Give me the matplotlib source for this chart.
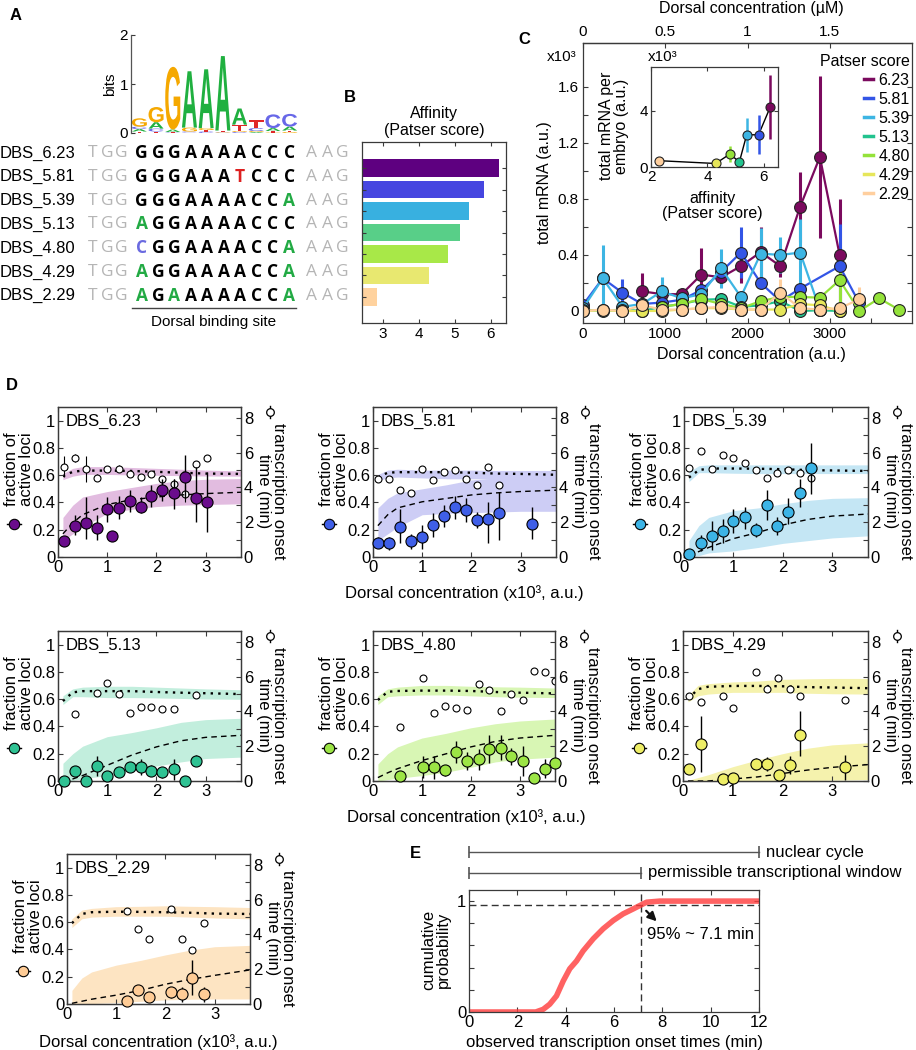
import numpy as np
import matplotlib
matplotlib.use('Agg')
import matplotlib.pyplot as plt
from matplotlib.textpath import TextPath
from matplotlib.patches import PathPatch
from matplotlib.font_manager import FontProperties
from matplotlib.lines import Line2D
import matplotlib.transforms as mtrans

plt.rcParams['font.family'] = ['Liberation Sans', 'DejaVu Sans']
plt.rcParams['axes.edgecolor'] = '#3a3a3a'
plt.rcParams['axes.linewidth'] = 0.9
plt.rcParams['xtick.color'] = '#3a3a3a'
plt.rcParams['ytick.color'] = '#3a3a3a'
plt.rcParams['xtick.labelcolor'] = 'k'
plt.rcParams['ytick.labelcolor'] = 'k'

# ======================= DATA =======================
# ---- Panel A: sequences and logo ----
dbs_names = ['DBS_6.23', 'DBS_5.81', 'DBS_5.39', 'DBS_5.13', 'DBS_4.80', 'DBS_4.29', 'DBS_2.29']
dbs_seqs = ['GGGAAAACCC', 'GGGAAATCCC', 'GGGAAAACCA', 'AGGAAAACCC',
            'CGGAAAACCA', 'AGGAAAACCA', 'AGAAAAACCA']
flank_left = 'TGG'
flank_right = 'AAG'
logo_A = [0.05, 0.13, 0.05, 1.15, 1.20, 1.52, 0.33, 0.02, 0.06, 0.08]
logo_C = [0.05, 0.06, 0.01, 0.02, 0.03, 0.01, 0.02, 0.06, 0.28, 0.26]
logo_G = [0.17, 0.31, 1.28, 0.08, 0.04, 0.01, 0.02, 0.02, 0.01, 0.02]
logo_T = [0.03, 0.03, 0.01, 0.01, 0.03, 0.03, 0.13, 0.16, 0.03, 0.03]

# ---- Panel B ----
patser = [6.23, 5.81, 5.39, 5.13, 4.80, 4.29, 2.29]
bar_len = [6.23, 5.81, 5.39, 5.13, 4.80, 4.29, 2.83]
bar_colors = ['#5e0080', '#4646e0', '#38b0e0', '#58cf88', '#a8e848', '#e8e870', '#ffd29e']

# ---- Panel C ----
c_x = [0, 240, 480, 720, 960, 1200, 1440, 1680, 1920, 2160, 2400, 2640, 2880, 3120, 3360, 3600, 3840]
nan = np.nan
c623_y = [nan, nan, nan, 0.14, 0.12, 0.12, 0.26, 0.24, 0.32, 0.42, 0.32, 0.745, 1.10, 0.40, nan, nan, nan]
c623_e = [0, 0, 0, 0.13, 0.03, 0.04, 0.19, 0.05, 0.12, 0.18, 0.08, 0.25, 0.58, 0.40, 0, 0, 0]
c581_y = [0.043, 0.233, 0.13, 0.05, 0.06, 0.08, 0.15, 0.28, 0.417, 0.20, 0.07, 0.16, nan, 0.32, 0.055, nan, nan]
c581_e = [0, 0, 0.1, 0, 0, 0, 0, 0, 0.18, 0, 0, 0, 0, 0.3, 0, 0, 0]
c539_y = [0.02, 0.233, 0.03, 0.05, 0.14, 0.09, 0.12, 0.305, 0.10, 0.41, 0.40, 0.417, 0.01, nan, nan, nan, nan]
c539_e = [0, 0.24, 0, 0, 0.1, 0, 0, 0.14, 0, 0.18, 0.13, 0.24, 0, 0, 0, 0, 0]
c513_y = [0.01, 0.0, 0.01, 0.0, 0.03, 0.05, 0.08, 0.085, 0.03, 0.04, 0.07, 0.0, 0.005, 0.0, nan, nan, nan]
c513_e = [0] * 17
c480_y = [nan, nan, nan, nan, 0.03, 0.05, 0.085, 0.05, 0.02, 0.07, 0.10, 0.10, 0.095, 0.22, 0.0, 0.09, 0.01]
c480_e = [0, 0, 0, 0, 0, 0, 0.05, 0, 0, 0, 0, 0, 0, 0.2, 0, 0, 0]
c429_y = [0.0, 0.005, 0.0, 0.0, 0.0, 0.01, 0.02, 0.02, 0.01, 0.01, 0.01, 0.05, 0.04, 0.0, nan, nan, nan]
c429_e = [0] * 17
c229_y = [0.0, 0.01, 0.0, 0.04, 0.01, 0.01, 0.02, 0.03, 0.01, 0.01, 0.13, 0.02, 0.01, 0.02, 0.083, nan, nan]
c229_e = [0, 0, 0, 0, 0, 0, 0, 0, 0, 0, 0.1, 0, 0, 0, 0.09, 0, 0]
c_colors = ['#7b0a5e', '#3355e6', '#3db5e3', '#22c38e', '#94e23a', '#e6e65a', '#ffcf9e']
c_labels = ['6.23', '5.81', '5.39', '5.13', '4.80', '4.29', '2.29']
# inset
ins_x = [2.29, 4.29, 4.80, 5.13, 5.39, 5.81, 6.23]
ins_y = [0.45, 0.25, 0.93, 0.35, 2.3, 2.3, 4.3]
ins_e = [0, 0, 0.6, 0, 1.2, 1.4, 2.3]
ins_colors = ['#ffcf9e', '#e6e65a', '#94e23a', '#22c38e', '#3db5e3', '#3355e6', '#7b0a5e']

# ---- Panel D: model curves sampled at these concentrations (x10^3 a.u.) ----
model_x = [0.1, 0.3, 0.5, 1.0, 1.5, 2.0, 2.5, 3.0, 3.72]

d623_fx = [0.12, 0.34, 0.57, 0.79, 1.0, 1.09, 1.23, 1.46, 1.69, 1.9, 2.12, 2.35, 2.58, 2.81, 3.03]
d623_fy = [0.115, 0.23, 0.25, 0.215, 0.35, 0.155, 0.36, 0.41, 0.37, 0.445, 0.49, 0.47, 0.59, 0.43, 0.40]
d623_fdn = [0.01, 0.07, 0.115, 0.09, 0.09, 0.0, 0.08, 0.08, 0.05, 0.08, 0.08, 0.115, 0.16, 0.17, 0.22]
d623_fup = [0.01, 0.075, 0.19, 0.09, 0.09, 0.0, 0.09, 0.08, 0.07, 0.08, 0.08, 0.10, 0.16, 0.23, 0.225]
d623_tx = [0.12, 0.35, 0.57, 0.79, 1.0, 1.23, 1.46, 1.69, 1.9, 2.12, 2.35, 2.58, 2.8, 3.03]
d623_ty = [5.2, 5.7, 5.07, 4.55, 5.07, 5.07, 4.75, 4.6, 4.78, 4.46, 4.2, 3.64, 5.36, 5.68]
d623_te = [0.6, 0.25, 0.75, 0.2, 0.15, 0.2, 0.15, 0.15, 0.12, 0.2, 0.28, 0.5, 0.15, 0.1]
d623_mm = [0.17, 0.25, 0.31, 0.385, 0.42, 0.44, 0.455, 0.465, 0.475]
d623_mlo = [0.12, 0.17, 0.22, 0.32, 0.35, 0.37, 0.38, 0.385, 0.39]
d623_mhi = [0.29, 0.38, 0.44, 0.48, 0.51, 0.54, 0.56, 0.57, 0.575]
d623_tm = [4.65, 4.9, 4.97, 4.97, 4.95, 4.9, 4.85, 4.8, 4.78]
d623_tlo = [4.45, 4.65, 4.75, 4.75, 4.72, 4.7, 4.68, 4.66, 4.65]
d623_thi = [4.8, 5.1, 5.2, 5.2, 5.15, 5.1, 5.05, 5.0, 4.95]

d581_fx = [0.11, 0.33, 0.55, 0.77, 1.0, 1.22, 1.45, 1.66, 1.9, 2.12, 2.33, 2.57, 3.24]
d581_fy = [0.105, 0.10, 0.22, 0.115, 0.15, 0.235, 0.30, 0.365, 0.345, 0.27, 0.28, 0.325, 0.245]
d581_fdn = [0.04, 0.05, 0.12, 0.055, 0.09, 0.09, 0.08, 0.085, 0.087, 0.06, 0.18, 0.2, 0.11]
d581_fup = [0.04, 0.05, 0.135, 0.055, 0.085, 0.09, 0.08, 0.085, 0.087, 0.06, 0.125, 0.155, 0.12]
d581_tx = [0.11, 0.33, 0.55, 0.77, 1.0, 1.22, 1.45, 1.66, 1.9, 2.12, 2.33, 2.57]
d581_ty = [4.5, 4.5, 3.88, 3.67, 5.07, 4.44, 4.88, 5.0, 4.5, 4.15, 5.2, 4.17]
d581_te = [0.08] * 12
d581_mm = [0.23, 0.31, 0.36, 0.405, 0.43, 0.455, 0.47, 0.48, 0.49]
d581_mlo = [0.12, 0.17, 0.22, 0.31, 0.32, 0.325, 0.33, 0.335, 0.335]
d581_mhi = [0.36, 0.43, 0.47, 0.50, 0.53, 0.565, 0.58, 0.59, 0.59]
d581_tm = [4.6, 4.85, 4.88, 4.88, 4.88, 4.85, 4.8, 4.78, 4.73]
d581_tlo = [4.4, 4.55, 4.6, 4.55, 4.5, 4.5, 4.5, 4.5, 4.5]
d581_thi = [4.75, 5.0, 5.05, 5.0, 5.0, 5.0, 4.98, 4.98, 4.98]

d539_fx = [0.1, 0.34, 0.56, 0.79, 1.0, 1.23, 1.45, 1.67, 1.89, 2.11, 2.34, 2.56]
d539_fy = [0.02, 0.105, 0.155, 0.19, 0.265, 0.29, 0.2, 0.385, 0.23, 0.33, 0.47, 0.65]
d539_fdn = [0.01, 0.06, 0.1, 0.09, 0.09, 0.085, 0.05, 0.11, 0.065, 0.09, 0.1, 0.185]
d539_fup = [0.01, 0.06, 0.11, 0.09, 0.09, 0.08, 0.05, 0.11, 0.065, 0.1, 0.1, 0.185]
d539_tx = [0.11, 0.34, 0.56, 0.79, 1.0, 1.23, 1.45, 1.67, 1.89, 2.11, 2.34, 2.56]
d539_ty = [5.14, 6.1, 5.05, 5.87, 5.68, 5.43, 5.0, 4.53, 4.86, 5.0, 4.86, 4.53]
d539_te = [0.08] * 12
d539_mm = [0.01, 0.04, 0.07, 0.135, 0.18, 0.235, 0.275, 0.30, 0.315]
d539_mlo = [0.0, 0.01, 0.03, 0.045, 0.07, 0.10, 0.12, 0.14, 0.155]
d539_mhi = [0.12, 0.23, 0.29, 0.34, 0.36, 0.39, 0.415, 0.43, 0.435]
d539_tm = [4.57, 5.0, 5.09, 5.09, 5.08, 5.05, 5.0, 4.98, 4.95]
d539_tlo = [4.34, 4.85, 4.85, 4.82, 4.8, 4.8, 4.8, 4.8, 4.8]
d539_thi = [4.9, 5.25, 5.3, 5.3, 5.3, 5.3, 5.3, 5.3, 5.3]

d513_fx = [0.12, 0.35, 0.57, 0.79, 1.0, 1.23, 1.46, 1.69, 1.9, 2.12, 2.35, 2.58, 2.8]
d513_fy = [0.0, 0.075, 0.0, 0.11, 0.037, 0.065, 0.1, 0.105, 0.075, 0.063, 0.085, 0.0, 0.15]
d513_fdn = [0.0, 0.02, 0.0, 0.07, 0.02, 0.02, 0.03, 0.06, 0.04, 0.04, 0.077, 0.0, 0.04]
d513_fup = [0.0, 0.02, 0.0, 0.07, 0.02, 0.02, 0.03, 0.06, 0.04, 0.04, 0.077, 0.0, 0.04]
d513_tx = [0.35, 0.79, 1.0, 1.23, 1.46, 1.69, 1.9, 2.12, 2.35, 2.8]
d513_ty = [3.85, 5.04, 5.64, 5.0, 3.9, 4.28, 4.28, 4.15, 4.13, 4.94]
d513_te = [0.08] * 10
d513_mm = [0.0, 0.015, 0.04, 0.115, 0.19, 0.25, 0.295, 0.32, 0.335]
d513_mlo = [0.0, 0.005, 0.017, 0.04, 0.08, 0.11, 0.14, 0.165, 0.175]
d513_mhi = [0.13, 0.2, 0.255, 0.325, 0.355, 0.39, 0.43, 0.45, 0.46]
d513_tm = [4.6, 5.1, 5.17, 5.17, 5.17, 5.12, 5.08, 5.05, 5.0]
d513_tlo = [4.4, 4.85, 4.85, 4.8, 4.8, 4.78, 4.75, 4.72, 4.7]
d513_thi = [4.9, 5.3, 5.4, 5.45, 5.45, 5.4, 5.35, 5.3, 5.25]

d480_fx = [0.56, 1.02, 1.25, 1.47, 1.69, 1.92, 2.16, 2.38, 2.61, 2.83, 3.06, 3.3, 3.52, 3.72]
d480_fy = [0.04, 0.1, 0.1, 0.078, 0.21, 0.145, 0.158, 0.235, 0.245, 0.18, 0.145, 0.025, 0.09, 0.13]
d480_fdn = [0.02, 0.08, 0.085, 0.04, 0.08, 0.065, 0.08, 0.1, 0.09, 0.06, 0.11, 0.02, 0.07, 0.02]
d480_fup = [0.02, 0.08, 0.085, 0.04, 0.08, 0.065, 0.08, 0.1, 0.09, 0.06, 0.11, 0.02, 0.07, 0.02]
d480_tx = [0.56, 1.02, 1.25, 1.47, 1.69, 1.92, 2.16, 2.38, 2.61, 2.83, 3.06, 3.3, 3.52, 3.72]
d480_ty = [3.1, 5.94, 3.94, 4.34, 4.19, 4.06, 5.57, 5.23, 4.04, 4.98, 4.66, 6.32, 6.26, 5.75]
d480_te = [0.08] * 14
d480_mm = [0.025, 0.06, 0.09, 0.15, 0.2, 0.25, 0.29, 0.315, 0.335]
d480_mlo = [0.0, 0.01, 0.02, 0.04, 0.065, 0.10, 0.14, 0.16, 0.175]
d480_mhi = [0.125, 0.2, 0.25, 0.315, 0.35, 0.39, 0.42, 0.44, 0.455]
d480_tm = [4.66, 5.13, 5.18, 5.2, 5.2, 5.18, 5.12, 5.08, 5.04]
d480_tlo = [4.4, 4.85, 4.9, 4.95, 4.95, 4.9, 4.85, 4.82, 4.8]
d480_thi = [4.9, 5.3, 5.4, 5.5, 5.5, 5.45, 5.42, 5.4, 5.35]

d429_fx = [0.12, 0.36, 0.8, 1.01, 1.47, 1.69, 1.93, 2.15, 2.36, 3.26]
d429_fy = [0.085, 0.27, 0.015, 0.02, 0.125, 0.125, 0.045, 0.12, 0.34, 0.1]
d429_fdn = [0.02, 0.205, 0.01, 0.01, 0.045, 0.05, 0.02, 0.065, 0.16, 0.09]
d429_fup = [0.02, 0.205, 0.01, 0.01, 0.045, 0.05, 0.02, 0.065, 0.17, 0.09]
d429_tx = [0.12, 0.36, 0.8, 1.01, 1.47, 1.69, 1.91, 2.15, 2.36, 3.26]
d429_ty = [4.9, 4.53, 4.9, 4.2, 6.26, 5.32, 5.94, 5.28, 4.9, 4.68]
d429_te = [0.08] * 10
d429_mm = [0.0, 0.0, 0.0, 0.015, 0.03, 0.055, 0.08, 0.10, 0.12]
d429_mlo = [0.0, 0.0, 0.0, 0.0, 0.0, 0.0, 0.003, 0.006, 0.01]
d429_mhi = [0.005, 0.025, 0.045, 0.105, 0.155, 0.2, 0.24, 0.265, 0.28]
d429_tm = [4.72, 5.28, 5.42, 5.47, 5.47, 5.45, 5.4, 5.38, 5.34]
d429_tlo = [4.55, 4.9, 5.0, 5.1, 5.1, 5.1, 5.05, 5.02, 5.0]
d429_thi = [4.9, 5.5, 5.6, 5.7, 5.75, 5.85, 5.88, 5.9, 5.9]

d229_fx = [1.22, 1.44, 1.66, 2.11, 2.34, 2.55, 2.79]
d229_fy = [0.025, 0.1, 0.05, 0.085, 0.07, 0.19, 0.07]
d229_fdn = [0.01, 0.037, 0.03, 0.04, 0.057, 0.125, 0.057]
d229_fup = [0.01, 0.037, 0.03, 0.04, 0.057, 0.135, 0.057]
d229_tx = [1.22, 1.44, 1.66, 2.11, 2.34, 2.55, 2.79]
d229_ty = [5.37, 4.32, 3.75, 5.47, 3.75, 3.09, 4.65]
d229_te = [0.08] * 7
d229_mm = [0.005, 0.02, 0.035, 0.065, 0.1, 0.145, 0.18, 0.21, 0.25]
d229_mlo = [0.0, 0.0, 0.003, 0.01, 0.02, 0.03, 0.035, 0.037, 0.037]
d229_mhi = [0.1, 0.19, 0.235, 0.285, 0.32, 0.36, 0.395, 0.42, 0.43]
d229_tm = [4.65, 5.18, 5.28, 5.31, 5.3, 5.28, 5.25, 5.2, 5.18]
d229_tlo = [4.4, 4.9, 5.0, 5.05, 5.05, 5.05, 5.0, 4.95, 4.9]
d229_thi = [4.9, 5.4, 5.5, 5.6, 5.62, 5.65, 5.62, 5.6, 5.55]

d_colors = ['#6a0c8c', '#3f5fe8', '#3cb4e6', '#2fc293', '#9ce545', '#eeee66', '#ffcc96']
d_bands = ['#e2bce0', '#cdcdf5', '#c4e6f4', '#c2eedd', '#d8f6b4', '#f5f2ad', '#fde4c2']

# ---- Panel E: cumulative distribution of onset times ----
e_x = [0, 2.76, 3.07, 3.34, 3.62, 3.9, 4.17, 4.45, 4.72, 5.14, 5.55, 5.97, 6.38, 6.8, 7.07, 7.35, 7.9, 12.0]
e_y = [0, 0, 0.024, 0.07, 0.145, 0.28, 0.39, 0.46, 0.55, 0.66, 0.75, 0.825, 0.885, 0.93, 0.96, 0.99, 1.0, 1.0]
e_p95_time = 7.1
e_p95_level = 0.965
e_nuclear_cycle = 12.0

# ======================= FIGURE =======================
W, H = 916, 1050
fig = plt.figure(figsize=(W / 100, H / 100), dpi=100)


def add_ax(x0, y0, x1, y1, **kw):
    return fig.add_axes([x0 / W, 1 - y1 / H, (x1 - x0) / W, (y1 - y0) / H], **kw)


ov = fig.add_axes([0, 0, 1, 1], zorder=20)
ov.set_xlim(0, W)
ov.set_ylim(H, 0)
ov.axis('off')

# panel labels
for lab, (px, py) in zip('ABCDE', [(16, 16), (350, 97), (524, 39), (12, 386), (415, 853)]):
    ov.text(px, py, lab, fontsize=12, fontweight='bold', ha='center', va='center')

# ---------------- Panel A ----------------
axL = add_ax(131, 35, 298, 133)
axL.set_xlim(0.5, 10.5)
axL.set_ylim(0, 2)
for s in ['top', 'right', 'bottom']:
    axL.spines[s].set_visible(False)
axL.spines['left'].set_color('#555555')
axL.set_xticks([])
axL.set_yticks([0, 1, 2])
axL.tick_params(axis='y', direction='in', length=3, labelsize=11, pad=2)
axL.set_ylabel('bits', fontsize=11, labelpad=2)
fp_logo = FontProperties(family='Liberation Sans', weight='bold')
logo_cols = {'A': '#20b040', 'C': '#6868e8', 'G': '#f5a800', 'T': '#e02828'}


def draw_letter(ax, ch, x, y, w, h, color):
    if h <= 0:
        return
    tp = TextPath((0, 0), ch, size=1, prop=fp_logo)
    bb = tp.get_extents()
    tr = mtrans.Affine2D().translate(-bb.x0, -bb.y0).scale(w / bb.width, h / bb.height).translate(x, y)
    ax.add_patch(PathPatch(tr.transform_path(tp), fc=color, ec='none'))


for i in range(10):
    heights = {'A': logo_A[i], 'C': logo_C[i], 'G': logo_G[i], 'T': logo_T[i]}
    ybase = 0.0
    for ch in sorted(heights, key=lambda k: heights[k]):
        draw_letter(axL, ch, i + 1 - 0.45, ybase, 0.9, heights[ch], logo_cols[ch])
        ybase += heights[ch]

seq_cols = {'A': '#22aa44', 'C': '#6a6ae0', 'G': '#f2a900', 'T': '#dd2020'}
ref = dbs_seqs[0]
for r, (nm, sq) in enumerate(zip(dbs_names, dbs_seqs)):
    yy = 153 + 23.8 * r
    ov.text(0, yy, nm, fontsize=12, ha='left', va='center')
    for j, ch in enumerate(flank_left):
        ov.text(92.5 + 14.3 * j, yy, ch, fontsize=12.5, ha='center', va='center',
                color='#b5b5b5', family='Open Sans')
    for j, ch in enumerate(sq):
        col = 'black' if ch == ref[j] else seq_cols[ch]
        ov.text(141.7 + 16.4 * j, yy, ch, fontsize=12.5, ha='center', va='center',
                color=col, family='Open Sans', fontweight='bold')
    for j, ch in enumerate(flank_right):
        ov.text(311.7 + 15.5 * j, yy, ch, fontsize=12.5, ha='center', va='center',
                color='#b5b5b5', family='Open Sans')
ov.plot([132, 296], [308, 308], color='#444444', lw=1)
ov.text(214, 322, 'Dorsal binding site', fontsize=11, ha='center', va='center')

# ---------------- Panel B ----------------
axB = add_ax(362, 142, 506, 323)
ypos = np.arange(1, len(patser) + 1)
axB.barh(ypos, bar_len, height=0.8, color=bar_colors, edgecolor='none')
axB.set_xlim(2.42, 6.42)
axB.set_ylim(8.21, -0.21)
axB.set_xticks([3, 4, 5, 6])
axB.set_yticks(ypos)
axB.set_yticklabels([])
axB.tick_params(direction='in', top=True, right=True, length=3, labelsize=11, pad=3)
axB.set_title('Affinity\n(Patser score)', fontsize=11.5, pad=5, linespacing=1.2)

# ---------------- Panel C ----------------
axC = add_ax(583, 43, 912, 323)
series = [(c623_y, c623_e), (c581_y, c581_e), (c539_y, c539_e), (c513_y, c513_e),
          (c480_y, c480_e), (c429_y, c429_e), (c229_y, c229_e)]
cx = np.array(c_x, dtype=float)
for (yv, ev), col in zip(series, c_colors):
    yv = np.array(yv, dtype=float)
    ev = np.array(ev, dtype=float)
    m = ~np.isnan(yv)
    axC.errorbar(cx[m], yv[m], yerr=ev[m], color=col, lw=1.6, marker='o', ms=8.5,
                 mfc=col, mec='#222222', mew=0.8, elinewidth=2.2, capsize=0)
axC.set_xlim(0, 4000)
axC.set_ylim(-0.086, 1.914)
axC.set_xticks(np.arange(0, 3501, 500))
axC.set_xticklabels(['0', '', '1000', '', '2000', '', '3000', ''])
axC.set_yticks(np.arange(0, 1.61, 0.2))
axC.set_yticklabels(['0', '', '0.4', '', '0.8', '', '1.2', '', '1.6'])
axC.tick_params(direction='in', right=True, length=3.5, labelsize=11, pad=3)
sec = axC.secondary_xaxis('top', functions=(lambda v: v / 2000.0, lambda v: v * 2000.0))
sec.set_xticks([0, 0.5, 1, 1.5])
sec.set_xticklabels(['0', '0.5', '1', '1.5'])
sec.tick_params(direction='in', length=3.5, labelsize=11, pad=3)
handles = [Line2D([0], [0], color=c, lw=2.5) for c in c_colors]
leg = axC.legend(handles, c_labels, title='Patser score', loc='upper right',
                 bbox_to_anchor=(1.005, 0.975), frameon=False, fontsize=11.5, title_fontsize=11.5,
                 handlelength=0.6, handletextpad=0.3, labelspacing=0.25, borderaxespad=0.1,
                 borderpad=0.15, alignment='right')
ov.text(751, 9, 'Dorsal concentration (µM)', fontsize=11.5, ha='center', va='center')
ov.text(751, 355, 'Dorsal concentration (a.u.)', fontsize=11.5, ha='center', va='center')
ov.text(544, 183, 'total mRNA (a.u.)', fontsize=11.5, ha='center', va='center', rotation=90)
ov.text(562, 57, 'x10³', fontsize=11, ha='center', va='center')

# inset
axI = add_ax(651, 67, 778, 167)
axI.plot(ins_x, ins_y, color='k', lw=1, zorder=1)
for xi, yi, ei, ci in zip(ins_x, ins_y, ins_e, ins_colors):
    axI.errorbar([xi], [yi], yerr=[ei], color=ci, elinewidth=1.8, capsize=0, zorder=2)
    axI.plot([xi], [yi], 'o', ms=6.5, mfc=ci, mec='#222222', mew=0.8, zorder=3)
axI.set_xlim(2, 6.5)
axI.set_ylim(0, 7.14)
axI.set_xticks([2, 4, 6])
axI.set_yticks([0, 4])
axI.tick_params(direction='in', top=True, right=True, length=3, labelsize=11, pad=2)
ov.text(663, 57, 'x10³', fontsize=11, ha='center', va='center')
ov.text(614, 126, 'total mRNA per\nembryo (a.u.)', fontsize=11.5, ha='center', va='center',
        rotation=90, linespacing=1.0)
ov.text(712, 206, 'affinity\n(Patser score)', fontsize=11.5, ha='center', va='center',
        linespacing=1.0)

# ---------------- Panel D ----------------
D_boxes = [(58, 407, 241, 557), (373, 407, 556, 557), (684, 407, 868, 557),
           (58, 631, 241, 781), (373, 631, 555, 781), (683, 631, 868, 781),
           (67, 854, 250, 1004)]
D_data = [
    ('DBS_6.23', d623_fx, d623_fy, d623_fdn, d623_fup, d623_tx, d623_ty, d623_te,
     d623_mm, d623_mlo, d623_mhi, d623_tm, d623_tlo, d623_thi),
    ('DBS_5.81', d581_fx, d581_fy, d581_fdn, d581_fup, d581_tx, d581_ty, d581_te,
     d581_mm, d581_mlo, d581_mhi, d581_tm, d581_tlo, d581_thi),
    ('DBS_5.39', d539_fx, d539_fy, d539_fdn, d539_fup, d539_tx, d539_ty, d539_te,
     d539_mm, d539_mlo, d539_mhi, d539_tm, d539_tlo, d539_thi),
    ('DBS_5.13', d513_fx, d513_fy, d513_fdn, d513_fup, d513_tx, d513_ty, d513_te,
     d513_mm, d513_mlo, d513_mhi, d513_tm, d513_tlo, d513_thi),
    ('DBS_4.80', d480_fx, d480_fy, d480_fdn, d480_fup, d480_tx, d480_ty, d480_te,
     d480_mm, d480_mlo, d480_mhi, d480_tm, d480_tlo, d480_thi),
    ('DBS_4.29', d429_fx, d429_fy, d429_fdn, d429_fup, d429_tx, d429_ty, d429_te,
     d429_mm, d429_mlo, d429_mhi, d429_tm, d429_tlo, d429_thi),
    ('DBS_2.29', d229_fx, d229_fy, d229_fdn, d229_fup, d229_tx, d229_ty, d229_te,
     d229_mm, d229_mlo, d229_mhi, d229_tm, d229_tlo, d229_thi),
]

for k, (box, dd) in enumerate(zip(D_boxes, D_data)):
    (name, fx, fy, fdn, fup, tx, ty, te, mm, mlo, mhi, tm, tlo, thi) = dd
    col, band = d_colors[k], d_bands[k]
    x0, y0, x1, y1 = box
    ax = add_ax(x0, y0, x1, y1)
    ax2 = ax.twinx()
    ax.set_zorder(ax2.get_zorder() + 1)
    ax.patch.set_visible(False)
    ax.set_xlim(0, 3.72)
    ax.set_ylim(0, 1.1)
    ax2.set_ylim(0, 8.63)
    # bands + onset time (bottom layer)
    ax2.fill_between(model_x, mlo, mhi, color=band, lw=0, transform=ax.transData, zorder=1)
    ax2.fill_between(model_x, tlo, thi, color=band, lw=0, zorder=1)
    ax2.plot(model_x, tm, linestyle=(0, (1, 2.2)), color='k', lw=1.7, zorder=2)
    ax2.errorbar(tx, ty, yerr=te, fmt='o', ms=5, mfc='white', mec='k', mew=0.8,
                 ecolor='k', elinewidth=0.8, capsize=0, zorder=3)
    # fraction of active loci (top layer)
    ax.plot(model_x, mm, linestyle=(0, (4, 3)), color='k', lw=1, zorder=2)
    ax.errorbar(fx, fy, yerr=[fdn, fup], fmt='o', ms=8, mfc=col, mec='k', mew=0.8,
                ecolor='k', elinewidth=1, capsize=0, zorder=3, clip_on=False)
    ax.set_xticks([0, 1, 2, 3])
    ax.set_yticks([0, 0.2, 0.4, 0.6, 0.8, 1.0])
    ax.set_yticklabels(['0', '0.2', '0.4', '0.6', '0.8', '1'])
    ax2.set_yticks(np.arange(0, 9, 1))
    ax2.set_yticklabels(['0', '', '2', '', '4', '', '6', '', '8'])
    ax.tick_params(axis='x', direction='in', top=True, length=3.5, labelsize=12, pad=2)
    ax.tick_params(axis='y', direction='in', length=3.5, labelsize=12, pad=2)
    ax2.tick_params(axis='y', direction='in', length=3.5, labelsize=12, pad=2)
    ax.text(0.04, 0.905, name, transform=ax.transAxes, fontsize=12, ha='left', va='center')
    # left label with legend marker
    ov.text(x0 - 39, y1 - 88, 'fraction of\nactive loci', fontsize=12, rotation=90,
            ha='center', va='center', linespacing=0.95)
    mx, my = x0 - 44, y1 - 33
    ov.plot([mx - 7, mx + 7], [my, my], color='k', lw=1)
    ov.plot([mx], [my], 'o', ms=7.5, mfc=col, mec='k', mew=0.8)
    # right label with legend marker
    ov.text(x1 + 30, y1 - 66, 'transcription onset\ntime (min)', fontsize=12, rotation=270,
            ha='center', va='center', linespacing=0.95)
    rx, ry = x1 + 29, y0 + 5
    ov.plot([rx, rx], [ry - 6, ry + 6], color='k', lw=1)
    ov.plot([rx], [ry], 'o', ms=5.5, mfc='white', mec='k', mew=0.9)

for (cxp, cyp) in [(464, 593), (466, 817), (158, 1042)]:
    ov.text(cxp, cyp, 'Dorsal concentration (x10³, a.u.)', fontsize=12, ha='center', va='center')

# ---------------- Panel E ----------------
axE = add_ax(469, 890, 759, 1012)
axE.plot([0, 12], [e_p95_level, e_p95_level], linestyle=(0, (5, 3)), color='#333333', lw=1)
axE.plot([e_p95_time, e_p95_time], [0, 1.1], linestyle=(0, (5, 3)), color='#333333', lw=1)
axE.plot(e_x, e_y, color='#ff3b3b', lw=4, alpha=0.8, solid_capstyle='butt', solid_joinstyle='round')
axE.set_xlim(0, 12)
axE.set_ylim(0, 1.1)
axE.set_xticks(np.arange(0, 13, 2))
axE.set_yticks(np.arange(0, 1.01, 0.2))
axE.set_yticklabels(['0', '', '', '', '', '1'])
axE.tick_params(direction='in', top=True, right=True, length=3.5, labelsize=12, pad=2)
axE.annotate('', xy=(7.85, 0.8), xytext=(7.25, 0.93),
             arrowprops=dict(arrowstyle='-|>', color='#111111', lw=1.6, mutation_scale=13))
axE.text(7.35, 0.70, '95% ~ 7.1 min', fontsize=12, ha='left', va='center')
blend = mtrans.blended_transform_factory(axE.transData, axE.transAxes)
for xe, yl, txt in [(e_nuclear_cycle, 1.31, 'nuclear cycle'),
                    (e_p95_time, 1.14, 'permissible transcriptional window')]:
    axE.plot([0, xe], [yl, yl], color='#555555', lw=1, transform=blend, clip_on=False)
    axE.plot([0, xe], [yl, yl], linestyle='none', marker='|', ms=9, mew=1.2, color='#555555',
             transform=blend, clip_on=False)
    axE.text(xe + 0.3, yl, txt, transform=blend, fontsize=12, ha='left', va='center')
ov.text(436, 950, 'cumulative\nprobability', fontsize=12, rotation=90, ha='center', va='center',
        linespacing=0.95)
ov.text(615, 1042, 'observed transcription onset times (min)', fontsize=12, ha='center', va='center')

fig.savefig('out.png', dpi=100)
